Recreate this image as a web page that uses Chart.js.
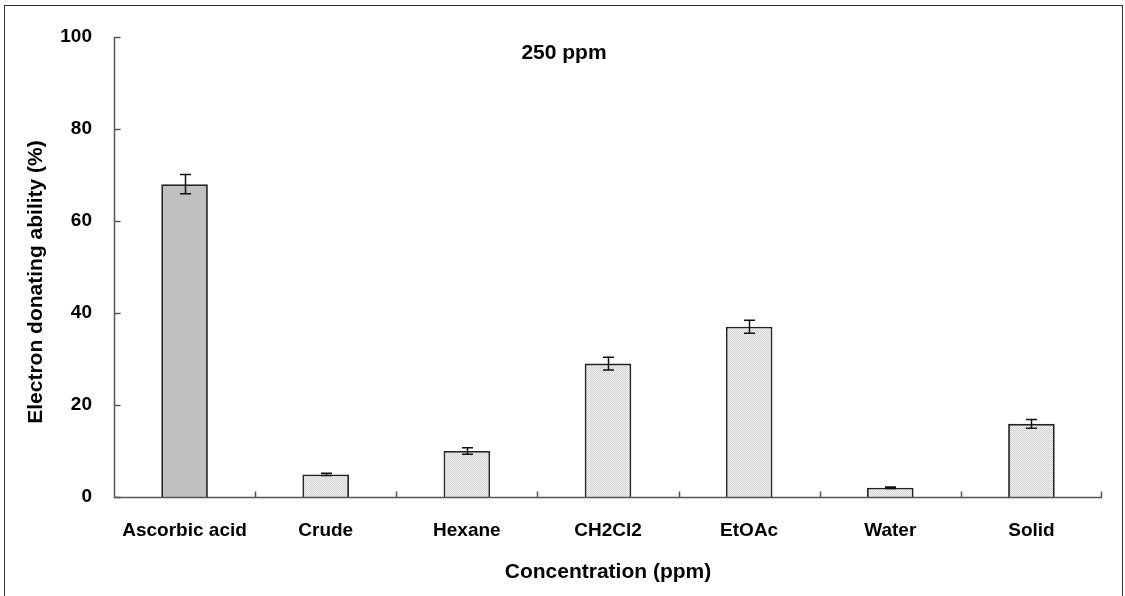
<!DOCTYPE html>
<html>
<head>
<meta charset="utf-8">
<script src="https://cdn.jsdelivr.net/npm/chart.js@4"></script>
<style>
  html, body { margin: 0; padding: 0; background: #fff; }
  #wrap { width: 1125px; height: 596px; }
</style>
</head>
<body>
<div id="wrap"><canvas id="myChart" width="1125" height="596"></canvas></div>
<script>
// data
const categories = ["Ascorbic acid", "Crude", "Hexane", "CH2Cl2", "EtOAc", "Water", "Solid"];
const values = [68, 4.9, 10.0, 29.0, 37.0, 2.0, 15.9];
const errors = [2.1, 0.25, 0.7, 1.4, 1.4, 0.15, 0.95];
const yTicks = [0, 20, 40, 60, 80, 100];

const FONT = "'Liberation Sans', Arial, sans-serif";

// fine dotted light gray fill for the extract bars
function makeDots() {
  const c = document.createElement("canvas");
  c.width = 2; c.height = 2;
  const g = c.getContext("2d");
  g.fillStyle = "#efefef";
  g.fillRect(0, 0, 2, 2);
  g.fillStyle = "#d4d4d4";
  g.fillRect(0, 0, 1, 1);
  g.fillRect(1, 1, 1, 1);
  return g.createPattern(c, "repeat");
}
const dots = makeDots();
const fills = categories.map((c, i) => (i === 0 ? "#c0c0c0" : dots));

// axes ticks (inward), error bars, titles and frame
const extras = {
  id: "extras",
  afterDatasetsDraw(chart) {
    const ctx = chart.ctx;
    const x = chart.scales.x, y = chart.scales.y;
    const area = chart.chartArea;
    ctx.save();

    // error bars
    ctx.strokeStyle = "#111";
    ctx.lineWidth = 1.5;
    const meta = chart.getDatasetMeta(0);
    meta.data.forEach((bar, i) => {
      const cx = Math.round(bar.x) + 0.5;
      const top = y.getPixelForValue(values[i] + errors[i]);
      const bot = y.getPixelForValue(values[i] - errors[i]);
      ctx.beginPath();
      ctx.moveTo(cx, top); ctx.lineTo(cx, bot);
      ctx.moveTo(cx - 5.5, top); ctx.lineTo(cx + 5.5, top);
      ctx.moveTo(cx - 5.5, bot); ctx.lineTo(cx + 5.5, bot);
      ctx.stroke();
    });

    // axis lines
    ctx.strokeStyle = "#555";
    ctx.lineWidth = 1.5;
    const x0 = Math.round(area.left) + 0.5;
    const yb = Math.round(y.getPixelForValue(0)) + 0.5;
    ctx.beginPath();
    ctx.moveTo(x0, y.getPixelForValue(100));
    ctx.lineTo(x0, yb);
    ctx.lineTo(area.right, yb);
    ctx.stroke();

    // y ticks pointing right
    yTicks.forEach(v => {
      const py = Math.round(y.getPixelForValue(v)) + 0.5;
      ctx.beginPath();
      ctx.moveTo(x0, py); ctx.lineTo(x0 + 6, py);
      ctx.stroke();
    });
    // x ticks at category boundaries, pointing up
    for (let i = 1; i <= categories.length; i++) {
      const px = Math.round((x.getPixelForValue(i - 1) + x.getPixelForValue(i)) / 2) + 0.5;
      const pxe = i === categories.length ? Math.round(area.right) - 0.5 : px;
      ctx.beginPath();
      ctx.moveTo(pxe, yb); ctx.lineTo(pxe, yb - 6);
      ctx.stroke();
    }

    // titles
    ctx.fillStyle = "#000";
    ctx.textAlign = "center";
    ctx.textBaseline = "middle";
    ctx.font = "bold 21px " + FONT;
    ctx.fillText("250 ppm", 564, 53);
    ctx.fillText("Concentration (ppm)", 608, 572);
    ctx.translate(36, 282);
    ctx.rotate(-Math.PI / 2);
    ctx.fillText("Electron donating ability (%)", 0, 0);
    ctx.restore();

    // outer frame
    ctx.save();
    ctx.strokeStyle = "#333";
    ctx.lineWidth = 1;
    ctx.strokeRect(4.5, 5.5, 1118, 620);
    ctx.restore();
  }
};

const chart = new Chart(document.getElementById("myChart"), {
  type: "bar",
  data: {
    labels: categories,
    datasets: [{
      data: values,
      backgroundColor: fills,
      borderColor: "#222",
      borderWidth: 1.8,
      borderSkipped: "bottom",
      barPercentage: 0.33,
      categoryPercentage: 1.0
    }]
  },
  options: {
    responsive: false,
    animation: false,
    layout: { padding: { top: 37, right: 23, left: 0, bottom: 0 } },
    plugins: { legend: { display: false }, tooltip: { enabled: false } },
    scales: {
      x: {
        grid: { display: false, drawTicks: false },
        border: { display: false },
        ticks: {
          color: "#000",
          padding: 22,
          maxRotation: 0,
          font: { family: FONT, size: 19, weight: "bold" }
        },
        afterFit(scale) { scale.height = 596 - 497; }
      },
      y: {
        min: 0,
        max: 100,
        afterBuildTicks(scale) { scale.ticks = yTicks.map(v => ({ value: v })); },
        grid: { display: false, drawTicks: false },
        border: { display: false },
        ticks: {
          color: "#000",
          padding: 22,
          font: { family: FONT, size: 19, weight: "bold" }
        },
        afterFit(scale) { scale.width = 114; }
      }
    }
  },
  plugins: [extras]
});
</script>
</body>
</html>
